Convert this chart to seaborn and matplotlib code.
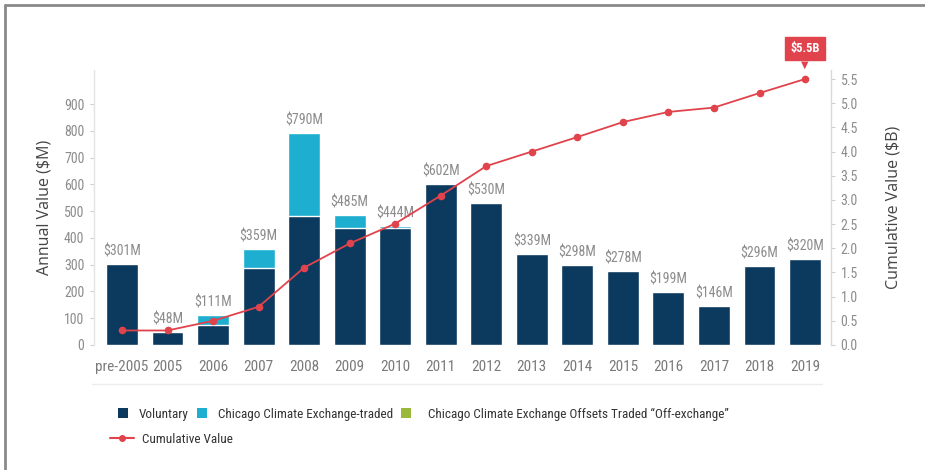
import matplotlib
matplotlib.use("Agg")
import matplotlib.pyplot as plt
from matplotlib import font_manager
from matplotlib.lines import Line2D
from matplotlib.patches import Patch
import pandas as pd
import seaborn as sns

# ---- data -------------------------------------------------------------
years = ["pre-2005", "2005", "2006", "2007", "2008", "2009", "2010", "2011",
         "2012", "2013", "2014", "2015", "2016", "2017", "2018", "2019"]
voluntary = [301, 48, 74, 288, 482, 438, 437, 602, 530, 339, 298, 278, 199, 146, 296, 320]
ccx_traded = [0, 0, 37, 71, 308, 47, 7, 0, 0, 0, 0, 0, 0, 0, 0, 0]
ccx_offexchange = [0, 0, 0, 0, 0, 0, 0, 0, 0, 0, 0, 0, 0, 0, 0, 0]
cumulative = [0.30, 0.30, 0.50, 0.79, 1.60, 2.10, 2.51, 3.09, 3.70, 4.00,
              4.30, 4.61, 4.82, 4.91, 5.21, 5.50]
left_ticks = [0, 100, 200, 300, 400, 500, 600, 700, 800, 900]
right_ticks = [0.0, 0.5, 1.0, 1.5, 2.0, 2.5, 3.0, 3.5, 4.0, 4.5, 5.0, 5.5]

# ---- style ------------------------------------------------------------
sns.set_theme(style="white")
plt.rcParams["font.family"] = ["DejaVu Sans"]

NAVY = "#0b3a5e"
CYAN = "#1eaed0"
GREEN = "#9ab83a"
RED = "#e0434c"
TICK_GRAY = "#8c8c8c"

# pick the narrowest sans family available for the numeric labels
_installed = {f.name for f in font_manager.fontManager.ttflist}
COND = next((n for n in ["Roboto Condensed", "Liberation Sans Narrow",
                         "Open Sans Condensed", "DejaVu Sans Condensed",
                         "Roboto"] if n in _installed), "DejaVu Sans")

df = pd.DataFrame({
    "year": years,
    "vol": voluntary,
    "ccx": ccx_traded,
    "off": ccx_offexchange,
    "cum": cumulative,
})
df["vol_ccx"] = df["vol"] + df["ccx"]
df["total"] = df["vol_ccx"] + df["off"]

fig = plt.figure(figsize=(9.25, 4.7), dpi=100)
ax = fig.add_axes([94 / 925, 125 / 470, (831 - 94) / 925, (345 - 70) / 470])
ax2 = ax.twinx()

# stacked bars drawn from the top layer down
sns.barplot(data=df, x="year", y="total", color=GREEN, width=0.7,
            saturation=1, ax=ax, order=years)
sns.barplot(data=df, x="year", y="vol_ccx", color=CYAN, width=0.7,
            saturation=1, ax=ax, order=years)
sns.barplot(data=df, x="year", y="vol", color=NAVY, width=0.7,
            saturation=1, ax=ax, order=years)

# value labels above each bar
top = ax.containers[0]
ax.bar_label(top, labels=[f"${v:.0f}M" for v in df["total"]], padding=4,
             fontsize=10, color=TICK_GRAY, family=COND, fontstretch="condensed")

# cumulative line on the secondary axis
sns.pointplot(data=df, x="year", y="cum", color=RED, markers="o",
              linestyles="-", ax=ax2, order=years, linewidth=1.3,
              markersize=4.5)

ax.set_xlim(-0.615, 15.57)
ax.set_ylim(0, 1027)
ax2.set_ylim(0, 5.687)

ax.set_yticks(left_ticks)
ax.set_yticklabels([str(t) for t in left_ticks])
ax2.set_yticks(right_ticks)
ax2.set_yticklabels([f"{t:.1f}" for t in right_ticks])

for a in (ax, ax2):
    for s in a.spines.values():
        s.set_visible(False)
ax.spines["left"].set_visible(True)
ax.spines["left"].set_color("#e4e4e4")
ax.spines["left"].set_linewidth(1.0)
ax2.spines["right"].set_visible(True)
ax2.spines["right"].set_color("#d8d8d8")
ax2.spines["right"].set_linewidth(1.0)

ax.tick_params(axis="y", left=True, length=3, width=0.8, color="#cfcfcf",
               labelsize=10, labelcolor=TICK_GRAY, pad=4)
ax2.tick_params(axis="y", right=True, length=3, width=0.8, color="#cfcfcf",
                labelsize=10, labelcolor=TICK_GRAY, pad=4)
ax.tick_params(axis="x", bottom=False, labelsize=11, labelcolor="#7a7a7a", pad=5)
for lab in ax.get_yticklabels() + ax2.get_yticklabels() + ax.get_xticklabels():
    lab.set_family(COND)
    lab.set_stretch("condensed")

ax.set_xlabel("")
ax2.set_xlabel("")
ax.set_ylabel("Annual Value ($M)", fontsize=11.5, color="#444444",
              family="Open Sans", labelpad=8)
ax2.set_ylabel("Cumulative Value ($B)", fontsize=11.5, color="#444444",
               family="Open Sans", labelpad=20)

# callout for the final cumulative value
last_x = len(years) - 1
ax2.annotate(f"${cumulative[-1]:.1f}B", xy=(last_x, cumulative[-1]),
             xytext=(0, 22), textcoords="offset points", ha="center",
             va="center", fontsize=9, fontweight="bold", color="white",
             family=COND,
             bbox=dict(boxstyle="square,pad=0.42", fc=RED, ec=RED))
ax2.annotate("\u25bc", xy=(last_x, cumulative[-1]), xytext=(0, 10.5),
             textcoords="offset points", ha="center", va="center",
             fontsize=7, color=RED)

# faint rule beneath the category labels
fig.add_artist(Line2D([92 / 925, 822 / 925], [1 - 384 / 470, 1 - 384 / 470],
                      color="#ececec", lw=1))

# frame lines along the left and top edges
fig.add_artist(Line2D([5 / 925, 5 / 925], [0, 1 - 5 / 470], color="#8a8a8a", lw=2))
fig.add_artist(Line2D([5 / 925, 1], [1 - 5 / 470, 1 - 5 / 470], color="#8a8a8a", lw=2))

# legends
legend_font = {"family": COND, "size": 9.5}
bar_handles = [Patch(fc=NAVY, ec="none"), Patch(fc=CYAN, ec="none"),
               Patch(fc=GREEN, ec="none")]
bar_labels = ["Voluntary", "Chicago Climate Exchange-traded",
              "  Chicago Climate Exchange Offsets Traded \u201cOff-exchange\u201d"]
leg1 = fig.legend(bar_handles, bar_labels, ncol=3, loc="upper left",
                  bbox_to_anchor=(106 / 925, 1 - 396 / 470), frameon=False,
                  handlelength=0.8, handleheight=0.8, handletextpad=0.8,
                  columnspacing=0.6, prop=legend_font)
line_handle = [Line2D([], [], color=RED, marker="o", markersize=4, lw=1.5)]
leg2 = fig.legend(line_handle, ["Cumulative Value"], loc="upper left",
                  bbox_to_anchor=(98 / 925, 1 - 421 / 470), frameon=False,
                  handlelength=1.8, handletextpad=0.6, prop=legend_font)
for leg in (leg1, leg2):
    for t in leg.get_texts():
        t.set_color("#333333")

fig.savefig("out.png", dpi=100, facecolor="white")
